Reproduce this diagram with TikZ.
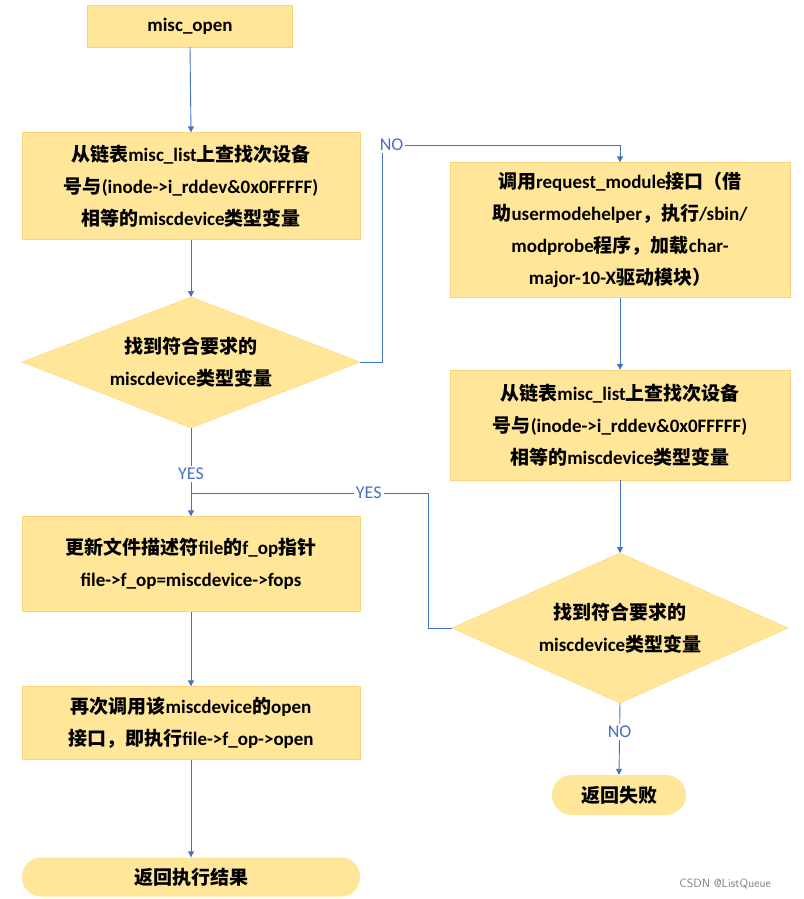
\documentclass[tikz,border=0pt]{standalone}
\usepackage{fontspec}
\setmainfont{Carlito}
\newfontfamily\cjk{Noto Sans CJK SC}
\usetikzlibrary{shapes.geometric,arrows.meta}
\newcommand\zh[1]{{\cjk\bfseries #1}}
\definecolor{fillY}{HTML}{FFE699}
\definecolor{lineB}{HTML}{4472C4}
\begin{document}
\begin{tikzpicture}[x=1pt,y=-1pt,
  every node/.style={font=\fontsize{19}{32}\selectfont\bfseries, align=center},
  box/.style={fill=fillY, draw=fillY!80!orange, line width=0.3pt, inner sep=0pt},
  dia/.style={diamond, aspect=2.6, fill=fillY, draw=fillY!80!orange, inner sep=0pt},
  term/.style={fill=fillY, rounded corners=19pt, inner sep=0pt},
  conn/.style={draw=lineB, line width=0.9pt, -{Triangle[length=6pt,width=6pt]}},
  lbl/.style={text=lineB, font=\fontsize{18}{20}\selectfont}]
\useasboundingbox (0,0) rectangle (803,899);
\node[box, minimum width=205, minimum height=42] (open) at (190,26) {misc\_open};
\node[box, minimum width=338, minimum height=107] (b1) at (191,186) {\zh{从链表}misc\_list\zh{上查找次设备}\\\zh{号与}(inode->i\_rddev\&0x0FFFFF)\\\zh{相等的}miscdevice\zh{类型变量}};
\path[dia] (191,297) -- (360,362) -- (191,428) -- (22,362) -- cycle;
\node (d1) at (191,362) [minimum width=338, minimum height=131] {\zh{找到符合要求的}\\miscdevice\zh{类型变量}};
\node[box, minimum width=338, minimum height=95] (b3) at (191,564) {\zh{更新文件描述符}file\zh{的}f\_op\zh{指针}\\file->f\_op=miscdevice->fops};
\node[box, minimum width=338, minimum height=73] (b4) at (191,723) {\zh{再次调用该}miscdevice\zh{的}open\\\zh{接口，即执行}file->f\_op->open};
\node[term, minimum width=338, minimum height=39] (t1) at (191,877) {\zh{返回执行结果}};
\node[box, minimum width=340, minimum height=135] (r1) at (620,230) {\zh{调用}request\_module\zh{接口（借}\\\zh{助}usermodehelper\zh{，执行}/sbin/\\modprobe\zh{程序，加载}char-\\major-10-X\zh{驱动模块）}};
\node[box, minimum width=340, minimum height=110] (r2) at (620,425) {\zh{从链表}misc\_list\zh{上查找次设备}\\\zh{号与}(inode->i\_rddev\&0x0FFFFF)\\\zh{相等的}miscdevice\zh{类型变量}};
\path[dia] (620,553) -- (788,628) -- (620,703) -- (452,628) -- cycle;
\node (d2) at (620,628) [minimum width=336, minimum height=150] {\zh{找到符合要求的}\\miscdevice\zh{类型变量}};
\node[term, minimum width=134, minimum height=40, rounded corners=20pt] (t2) at (619,795) {\zh{返回失败}};
\coordinate (d1t) at (191,297); \coordinate (d1b) at (191,428); \coordinate (d1r) at (360,362);
\coordinate (d2t) at (620,553); \coordinate (d2b) at (620,703); \coordinate (d2l) at (452,628);
\draw[conn] (open.south) -- (b1.north);
\draw[conn] (b1.south) -- (d1t);
\draw[conn] (d1b) -- node[pos=0.52, fill=white, lbl, inner sep=2pt]{YES} (b3.north);
\draw[conn] (d1r) -- (382,362) -- (382,145) -- node[pos=0.04, fill=white, lbl, inner sep=2pt]{NO} (620,145) -- (r1.north);
\draw[conn] (r1.south) -- (r2.north);
\draw[conn] (r2.south) -- (d2t);
\draw[draw=lineB, line width=0.9pt] (d2l) -- (428,628) -- (428,493) -- node[pos=0.25, fill=white, lbl, inner sep=2pt]{YES} (191,493);
\draw[conn] (d2b) -- node[pos=0.4, fill=white, lbl, inner sep=2pt]{NO} (t2.north);
\draw[conn] (b3.south) -- (b4.north);
\draw[conn] (b4.south) -- (t1.north);
\node[text=gray, font=\fontsize{12}{14}\selectfont\sffamily] (wm) at (725,884) {CSDN @ListQueue};
\end{tikzpicture}
\end{document}
